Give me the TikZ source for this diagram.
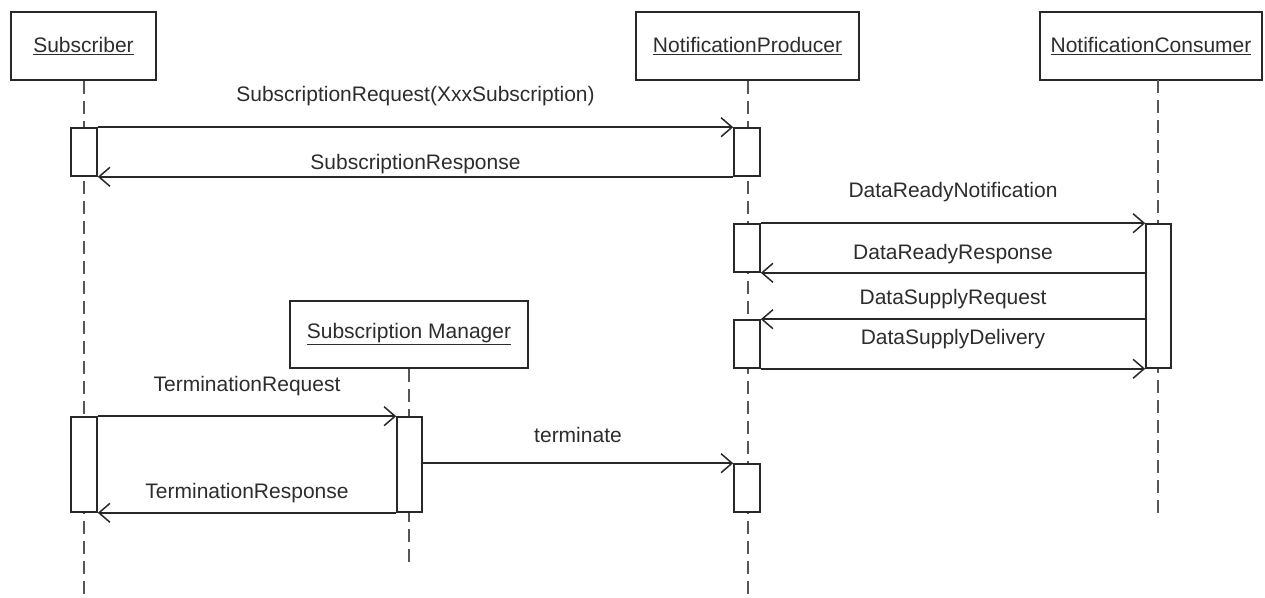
\documentclass[tikz,border=0pt]{standalone}
\usepackage{fontspec}
\setmainfont{Liberation Sans}
\usetikzlibrary{arrows.meta,calc}
\definecolor{ink}{RGB}{40,40,40}
\definecolor{txt}{RGB}{45,45,45}
\definecolor{life}{RGB}{85,85,85}
\begin{document}
\begin{tikzpicture}[x=1pt,y=-1pt,
  actor/.style={draw=ink,line width=1.8pt,fill=white,inner sep=0pt,font=\fontsize{21}{24}\selectfont,text=txt},
  actbox/.style={draw=ink,line width=1.6pt,fill=white,inner sep=0pt,minimum width=26pt},
  msg/.style={draw=ink,line width=1.5pt,-{Straight Barb[length=11pt,width=19pt,line width=1.5pt]}},
  lifeline/.style={draw=life,line width=2pt,dash pattern=on 13pt off 7pt},
  lbl/.style={font=\fontsize{21}{24}\selectfont,text=txt,inner sep=0pt}]
\useasboundingbox[fill=white] (0,0) rectangle (1265,597);

% header boxes
\node[actor,minimum width=145pt,minimum height=68pt] (sub) at (83.5,46) {\underline{Subscriber}};
\node[actor,minimum width=223pt,minimum height=68pt] (prod) at (747.5,46) {\underline{NotificationProducer}};
\node[actor,minimum width=222pt,minimum height=68pt] (cons) at (1151,46) {\underline{NotificationConsumer}};
\node[actor,minimum width=238pt,minimum height=67pt] (mgr) at (409,334.5) {\underline{Subscription Manager}};

% lifelines
\coordinate (subEnd) at (83.5,597);
\coordinate (prodEnd) at (747.5,597);
\coordinate (consTop) at (1158,80);
\coordinate (consEnd) at (1158,520);
\coordinate (mgrEnd) at (409,567);
\draw[lifeline] (sub.south) -- (subEnd);
\draw[lifeline] (prod.south) -- (prodEnd);
\draw[lifeline] (consTop) -- (consEnd);
\draw[lifeline] (mgr.south) -- (mgrEnd);

% activation boxes
\node[actbox,minimum height=48pt] (sa1) at (84,152) {};
\node[actbox,minimum height=48pt] (pa1) at (747,152) {};
\node[actbox,minimum height=48pt] (pa2) at (747,248) {};
\node[actbox,minimum height=48pt] (pa3) at (747,344) {};
\node[actbox,minimum height=144pt,minimum width=25pt] (ca) at (1158.5,296) {};
\node[actbox,minimum height=95pt] (sa2) at (84,464.5) {};
\node[actbox,minimum height=95pt,minimum width=25pt] (ma) at (409.5,464.5) {};
\node[actbox,minimum height=48pt] (pa4) at (747,488) {};

% messages
\draw[msg] (sa1.north east) -- (pa1.north west)
  node[lbl,midway,yshift=31pt] (l1) {SubscriptionRequest(XxxSubscription)};
\draw[msg] (pa1.south west) -- (sa1.south east)
  node[lbl,midway,yshift=13pt] (l2) {SubscriptionResponse};
\draw[msg] (pa2.north east) -- (ca.north west)
  node[lbl,midway,yshift=31pt] (l3) {DataReadyNotification};
\draw[msg] (pa2.south east -| ca.west) -- (pa2.south east)
  node[lbl,midway,yshift=19pt] (l4) {DataReadyResponse};
\draw[msg] (pa3.north east -| ca.west) -- (pa3.north east)
  node[lbl,midway,yshift=20pt] (l5) {DataSupplyRequest};
\draw[msg] (pa3.south east) -- (ca.south west)
  node[lbl,midway,yshift=30pt] (l6) {DataSupplyDelivery};
\draw[msg] (sa2.north east) -- (ma.north west)
  node[lbl,midway,yshift=30pt] (l7) {TerminationRequest};
\draw[msg] (ma.south west) -- (sa2.south east)
  node[lbl,midway,yshift=20pt] (l8) {TerminationResponse};
\draw[msg] (ma.east |- pa4.north) -- (pa4.north west)
  node[lbl,midway,yshift=28pt] (l9) {terminate};
\end{tikzpicture}
\end{document}
